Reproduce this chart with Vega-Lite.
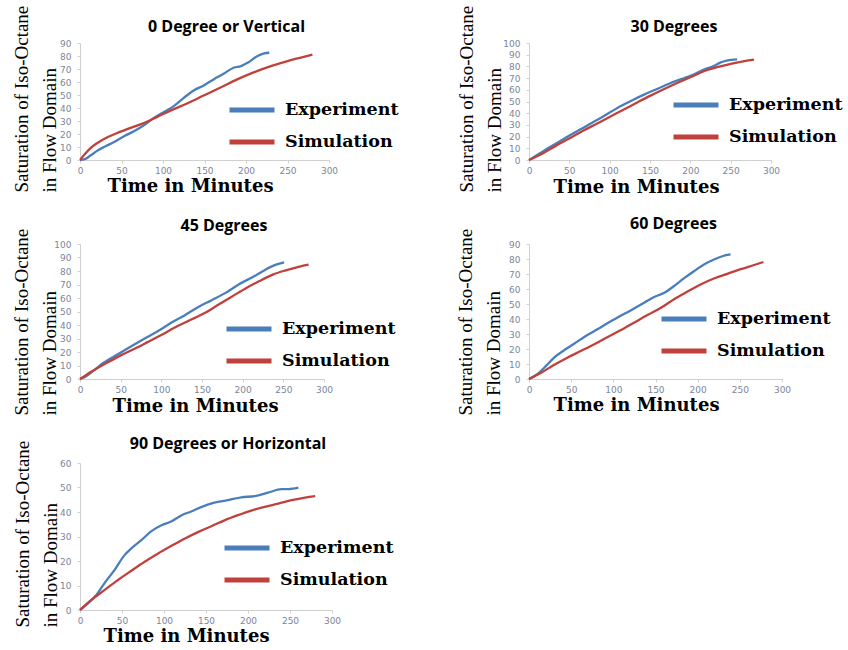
{
  "$schema": "https://vega.github.io/schema/vega-lite/v6.json",
  "padding": {"left": 11, "top": 5, "right": 5, "bottom": 5},
  "background": "white",
  "datasets": {
    "d1": [
      {"series": "Experiment", "t": 0, "s": 0}, {"series": "Experiment", "t": 5, "s": 0.4}, {"series": "Experiment", "t": 13, "s": 3.6}, {"series": "Experiment", "t": 21, "s": 7.2}, {"series": "Experiment", "t": 29, "s": 10}, {"series": "Experiment", "t": 41, "s": 13.9}, {"series": "Experiment", "t": 53, "s": 18.3}, {"series": "Experiment", "t": 65, "s": 22.1}, {"series": "Experiment", "t": 77, "s": 26.7}, {"series": "Experiment", "t": 89, "s": 32.4}, {"series": "Experiment", "t": 101, "s": 37}, {"series": "Experiment", "t": 113, "s": 41.4}, {"series": "Experiment", "t": 125, "s": 47.8}, {"series": "Experiment", "t": 137, "s": 53.5}, {"series": "Experiment", "t": 149, "s": 57.3}, {"series": "Experiment", "t": 161, "s": 62}, {"series": "Experiment", "t": 173, "s": 66.3}, {"series": "Experiment", "t": 185, "s": 71}, {"series": "Experiment", "t": 194, "s": 72.2}, {"series": "Experiment", "t": 202, "s": 74.8}, {"series": "Experiment", "t": 214, "s": 80}, {"series": "Experiment", "t": 222, "s": 82}, {"series": "Experiment", "t": 228, "s": 82.5},
      {"series": "Simulation", "t": 0, "s": 0}, {"series": "Simulation", "t": 7, "s": 5.4}, {"series": "Simulation", "t": 13, "s": 9.3}, {"series": "Simulation", "t": 21, "s": 13.1}, {"series": "Simulation", "t": 33, "s": 17.5}, {"series": "Simulation", "t": 45, "s": 20.8}, {"series": "Simulation", "t": 61, "s": 24.7}, {"series": "Simulation", "t": 77, "s": 28.5}, {"series": "Simulation", "t": 93, "s": 33.2}, {"series": "Simulation", "t": 109, "s": 38}, {"series": "Simulation", "t": 129, "s": 43.5}, {"series": "Simulation", "t": 149, "s": 49.6}, {"series": "Simulation", "t": 170, "s": 56}, {"series": "Simulation", "t": 190, "s": 62.2}, {"series": "Simulation", "t": 210, "s": 67.6}, {"series": "Simulation", "t": 230, "s": 72.2}, {"series": "Simulation", "t": 250, "s": 76.1}, {"series": "Simulation", "t": 265, "s": 78.6}, {"series": "Simulation", "t": 280, "s": 81}
    ],
    "d2": [
      {"series": "Experiment", "t": 0, "s": 0}, {"series": "Experiment", "t": 14, "s": 6}, {"series": "Experiment", "t": 26, "s": 11.1}, {"series": "Experiment", "t": 43, "s": 17.9}, {"series": "Experiment", "t": 59, "s": 24.4}, {"series": "Experiment", "t": 76, "s": 31}, {"series": "Experiment", "t": 92, "s": 37.2}, {"series": "Experiment", "t": 109, "s": 44.3}, {"series": "Experiment", "t": 125, "s": 50}, {"series": "Experiment", "t": 142, "s": 55.7}, {"series": "Experiment", "t": 158, "s": 60.5}, {"series": "Experiment", "t": 175, "s": 65.6}, {"series": "Experiment", "t": 192, "s": 69.9}, {"series": "Experiment", "t": 200, "s": 71.9}, {"series": "Experiment", "t": 216, "s": 77}, {"series": "Experiment", "t": 229, "s": 80.4}, {"series": "Experiment", "t": 237, "s": 83.2}, {"series": "Experiment", "t": 245, "s": 85}, {"series": "Experiment", "t": 258, "s": 86},
      {"series": "Simulation", "t": 0, "s": 0}, {"series": "Simulation", "t": 18, "s": 6}, {"series": "Simulation", "t": 34, "s": 12.5}, {"series": "Simulation", "t": 51, "s": 18.8}, {"series": "Simulation", "t": 67, "s": 25}, {"series": "Simulation", "t": 84, "s": 31}, {"series": "Simulation", "t": 101, "s": 37.2}, {"series": "Simulation", "t": 117, "s": 42.9}, {"series": "Simulation", "t": 134, "s": 49.1}, {"series": "Simulation", "t": 150, "s": 54.8}, {"series": "Simulation", "t": 167, "s": 60.5}, {"series": "Simulation", "t": 183, "s": 65.6}, {"series": "Simulation", "t": 200, "s": 70.7}, {"series": "Simulation", "t": 216, "s": 75.6}, {"series": "Simulation", "t": 233, "s": 79.3}, {"series": "Simulation", "t": 250, "s": 82.1}, {"series": "Simulation", "t": 264, "s": 84.1}, {"series": "Simulation", "t": 279, "s": 85.8}
    ],
    "d3": [
      {"series": "Experiment", "t": 0, "s": 0}, {"series": "Experiment", "t": 6, "s": 1.5}, {"series": "Experiment", "t": 17, "s": 6.4}, {"series": "Experiment", "t": 29, "s": 12}, {"series": "Experiment", "t": 46, "s": 18.2}, {"series": "Experiment", "t": 62, "s": 23.9}, {"series": "Experiment", "t": 79, "s": 29.8}, {"series": "Experiment", "t": 96, "s": 35.5}, {"series": "Experiment", "t": 112, "s": 41.6}, {"series": "Experiment", "t": 129, "s": 47.3}, {"series": "Experiment", "t": 145, "s": 53.2}, {"series": "Experiment", "t": 162, "s": 58.4}, {"series": "Experiment", "t": 179, "s": 63.8}, {"series": "Experiment", "t": 195, "s": 70}, {"series": "Experiment", "t": 212, "s": 75.4}, {"series": "Experiment", "t": 228, "s": 81}, {"series": "Experiment", "t": 241, "s": 84.7}, {"series": "Experiment", "t": 251, "s": 86.4},
      {"series": "Simulation", "t": 0, "s": 0}, {"series": "Simulation", "t": 8.5, "s": 3.4}, {"series": "Simulation", "t": 21, "s": 7.9}, {"series": "Simulation", "t": 33, "s": 12}, {"series": "Simulation", "t": 50, "s": 17.5}, {"series": "Simulation", "t": 67, "s": 22.4}, {"series": "Simulation", "t": 83, "s": 27.3}, {"series": "Simulation", "t": 100, "s": 32.6}, {"series": "Simulation", "t": 116, "s": 38}, {"series": "Simulation", "t": 133, "s": 43}, {"series": "Simulation", "t": 154, "s": 49}, {"series": "Simulation", "t": 170, "s": 55}, {"series": "Simulation", "t": 187, "s": 61.1}, {"series": "Simulation", "t": 204, "s": 67.3}, {"series": "Simulation", "t": 220, "s": 72.4}, {"series": "Simulation", "t": 237, "s": 77.3}, {"series": "Simulation", "t": 253, "s": 80.5}, {"series": "Simulation", "t": 270, "s": 83.3}, {"series": "Simulation", "t": 281, "s": 84.7}
    ],
    "d4": [
      {"series": "Experiment", "t": 0, "s": 0}, {"series": "Experiment", "t": 11, "s": 3.8}, {"series": "Experiment", "t": 20.5, "s": 8.9}, {"series": "Experiment", "t": 30, "s": 14.4}, {"series": "Experiment", "t": 42, "s": 19.3}, {"series": "Experiment", "t": 54, "s": 23.7}, {"series": "Experiment", "t": 66, "s": 28.2}, {"series": "Experiment", "t": 78, "s": 32.1}, {"series": "Experiment", "t": 90, "s": 36.1}, {"series": "Experiment", "t": 105, "s": 41}, {"series": "Experiment", "t": 121, "s": 45.9}, {"series": "Experiment", "t": 137, "s": 51}, {"series": "Experiment", "t": 149, "s": 54.8}, {"series": "Experiment", "t": 161, "s": 57.6}, {"series": "Experiment", "t": 172, "s": 62}, {"series": "Experiment", "t": 184, "s": 67.2}, {"series": "Experiment", "t": 196, "s": 72}, {"series": "Experiment", "t": 208, "s": 76.5}, {"series": "Experiment", "t": 220, "s": 79.8}, {"series": "Experiment", "t": 230, "s": 82}, {"series": "Experiment", "t": 239, "s": 83.1},
      {"series": "Simulation", "t": 0, "s": 0}, {"series": "Simulation", "t": 15, "s": 4.4}, {"series": "Simulation", "t": 30, "s": 9.5}, {"series": "Simulation", "t": 46, "s": 14.4}, {"series": "Simulation", "t": 62, "s": 18.8}, {"series": "Simulation", "t": 78, "s": 23.3}, {"series": "Simulation", "t": 94, "s": 28.2}, {"series": "Simulation", "t": 109, "s": 32.6}, {"series": "Simulation", "t": 125, "s": 37.7}, {"series": "Simulation", "t": 141, "s": 42.8}, {"series": "Simulation", "t": 157, "s": 47.7}, {"series": "Simulation", "t": 172, "s": 53.2}, {"series": "Simulation", "t": 188, "s": 58.3}, {"series": "Simulation", "t": 204, "s": 63.2}, {"series": "Simulation", "t": 220, "s": 67.2}, {"series": "Simulation", "t": 236, "s": 70.3}, {"series": "Simulation", "t": 251, "s": 73.2}, {"series": "Simulation", "t": 267, "s": 76}, {"series": "Simulation", "t": 278, "s": 78}
    ],
    "d5": [
      {"series": "Experiment", "t": 0, "s": 0}, {"series": "Experiment", "t": 9.5, "s": 2.7}, {"series": "Experiment", "t": 19.5, "s": 6.1}, {"series": "Experiment", "t": 29, "s": 10.9}, {"series": "Experiment", "t": 41, "s": 16.3}, {"series": "Experiment", "t": 53, "s": 22.4}, {"series": "Experiment", "t": 61, "s": 25.1}, {"series": "Experiment", "t": 73, "s": 28.5}, {"series": "Experiment", "t": 85, "s": 32.2}, {"series": "Experiment", "t": 97, "s": 34.6}, {"series": "Experiment", "t": 109, "s": 36.2}, {"series": "Experiment", "t": 121, "s": 38.7}, {"series": "Experiment", "t": 133, "s": 40.3}, {"series": "Experiment", "t": 145, "s": 42.1}, {"series": "Experiment", "t": 160, "s": 43.8}, {"series": "Experiment", "t": 176, "s": 44.8}, {"series": "Experiment", "t": 192, "s": 46}, {"series": "Experiment", "t": 208, "s": 46.5}, {"series": "Experiment", "t": 224, "s": 47.9}, {"series": "Experiment", "t": 240, "s": 49.3}, {"series": "Experiment", "t": 248, "s": 49.3}, {"series": "Experiment", "t": 260, "s": 49.9},
      {"series": "Simulation", "t": 0, "s": 0}, {"series": "Simulation", "t": 13.5, "s": 4.1}, {"series": "Simulation", "t": 29, "s": 8.1}, {"series": "Simulation", "t": 45, "s": 12.2}, {"series": "Simulation", "t": 61, "s": 16}, {"series": "Simulation", "t": 77, "s": 19.7}, {"series": "Simulation", "t": 93, "s": 23.1}, {"series": "Simulation", "t": 109, "s": 26.2}, {"series": "Simulation", "t": 125, "s": 29.2}, {"series": "Simulation", "t": 141, "s": 31.9}, {"series": "Simulation", "t": 157, "s": 34.3}, {"series": "Simulation", "t": 172, "s": 36.6}, {"series": "Simulation", "t": 188, "s": 38.7}, {"series": "Simulation", "t": 204, "s": 40.6}, {"series": "Simulation", "t": 220, "s": 42.1}, {"series": "Simulation", "t": 236, "s": 43.4}, {"series": "Simulation", "t": 252, "s": 44.8}, {"series": "Simulation", "t": 268, "s": 45.9}, {"series": "Simulation", "t": 280, "s": 46.5}
    ]
  },
  "columns": 2,
  "bounds": "flush",
  "align": "none",
  "spacing": {"row": 84, "column": 197},
  "resolve": {"scale": {"color": "independent", "stroke": "independent"}, "legend": {"color": "independent", "stroke": "independent"}},
  "concat": [
    {
      "width": 249, "height": 117,
      "title": {"text": "0 Degree or Vertical", "dx": 22, "offset": -30},
      "data": {"name": "d1"},
      "encoding": {
        "x": {"field": "t", "type": "quantitative", "scale": {"domain": [0, 300], "nice": false}, "axis": {"values": [0, 50, 100, 150, 200, 250, 300], "title": "Time in Minutes", "titleX": 110, "titleY": 26}},
        "y": {"field": "s", "type": "quantitative", "scale": {"domain": [0, 90], "nice": false}, "axis": {"values": [0, 10, 20, 30, 40, 50, 60, 70, 80, 90], "title": ["Saturation of Iso-Octane", "in Flow Domain"], "titleX": -68, "titleY": 149}}
      },
      "layer": [
        {"transform": [{"filter": "datum.series == 'Experiment'"}], "mark": {"type": "line", "strokeWidth": 2.3, "interpolate": "monotone"},
         "encoding": {"color": {"field": "series", "type": "nominal", "scale": {"domain": ["Experiment"], "range": ["#4a7ebb"]}, "legend": {"title": null, "orient": "none", "legendX": 147, "legendY": 42}}}},
        {"transform": [{"filter": "datum.series == 'Simulation'"}], "mark": {"type": "line", "strokeWidth": 2.3, "interpolate": "monotone"},
         "encoding": {"stroke": {"field": "series", "type": "nominal", "scale": {"domain": ["Simulation"], "range": ["#c0413b"]}, "legend": {"title": null, "orient": "none", "legendX": 147, "legendY": 74}}}}
      ]
    },
    {
      "width": 242, "height": 117,
      "title": {"text": "30 Degrees", "dx": 24, "offset": -30},
      "data": {"name": "d2"},
      "encoding": {
        "x": {"field": "t", "type": "quantitative", "scale": {"domain": [0, 300], "nice": false}, "axis": {"values": [0, 50, 100, 150, 200, 250, 300], "title": "Time in Minutes", "titleX": 107, "titleY": 27}},
        "y": {"field": "s", "type": "quantitative", "scale": {"domain": [0, 100], "nice": false}, "axis": {"values": [0, 10, 20, 30, 40, 50, 60, 70, 80, 90, 100], "title": ["Saturation of Iso-Octane", "in Flow Domain"], "titleX": -72, "titleY": 149}}
      },
      "layer": [
        {"transform": [{"filter": "datum.series == 'Experiment'"}], "mark": {"type": "line", "strokeWidth": 2.3, "interpolate": "monotone"},
         "encoding": {"color": {"field": "series", "type": "nominal", "scale": {"domain": ["Experiment"], "range": ["#4a7ebb"]}, "legend": {"title": null, "orient": "none", "legendX": 142, "legendY": 37}}}},
        {"transform": [{"filter": "datum.series == 'Simulation'"}], "mark": {"type": "line", "strokeWidth": 2.3, "interpolate": "monotone"},
         "encoding": {"stroke": {"field": "series", "type": "nominal", "scale": {"domain": ["Simulation"], "range": ["#c0413b"]}, "legend": {"title": null, "orient": "none", "legendX": 142, "legendY": 69}}}}
      ]
    },
    {
      "width": 244, "height": 135,
      "title": {"text": "45 Degrees", "dx": 22, "offset": -6},
      "data": {"name": "d3"},
      "encoding": {
        "x": {"field": "t", "type": "quantitative", "scale": {"domain": [0, 300], "nice": false}, "axis": {"values": [0, 50, 100, 150, 200, 250, 300], "title": "Time in Minutes", "titleX": 115, "titleY": 27}},
        "y": {"field": "s", "type": "quantitative", "scale": {"domain": [0, 100], "nice": false}, "axis": {"values": [0, 10, 20, 30, 40, 50, 60, 70, 80, 90, 100], "title": ["Saturation of Iso-Octane", "in Flow Domain"], "titleX": -68, "titleY": 171}}
      },
      "layer": [
        {"transform": [{"filter": "datum.series == 'Experiment'"}], "mark": {"type": "line", "strokeWidth": 2.3, "interpolate": "monotone"},
         "encoding": {"color": {"field": "series", "type": "nominal", "scale": {"domain": ["Experiment"], "range": ["#4a7ebb"]}, "legend": {"title": null, "orient": "none", "legendX": 144, "legendY": 60}}}},
        {"transform": [{"filter": "datum.series == 'Simulation'"}], "mark": {"type": "line", "strokeWidth": 2.3, "interpolate": "monotone"},
         "encoding": {"stroke": {"field": "series", "type": "nominal", "scale": {"domain": ["Simulation"], "range": ["#c0413b"]}, "legend": {"title": null, "orient": "none", "legendX": 144, "legendY": 92}}}}
      ]
    },
    {
      "width": 253, "height": 135,
      "title": {"text": "60 Degrees", "dx": 18, "offset": -4},
      "data": {"name": "d4"},
      "encoding": {
        "x": {"field": "t", "type": "quantitative", "scale": {"domain": [0, 300], "nice": false}, "axis": {"values": [0, 50, 100, 150, 200, 250, 300], "title": "Time in Minutes", "titleX": 107, "titleY": 26}},
        "y": {"field": "s", "type": "quantitative", "scale": {"domain": [0, 90], "nice": false}, "axis": {"values": [0, 10, 20, 30, 40, 50, 60, 70, 80, 90], "title": ["Saturation of Iso-Octane", "in Flow Domain"], "titleX": -73, "titleY": 171}}
      },
      "layer": [
        {"transform": [{"filter": "datum.series == 'Experiment'"}], "mark": {"type": "line", "strokeWidth": 2.3, "interpolate": "monotone"},
         "encoding": {"color": {"field": "series", "type": "nominal", "scale": {"domain": ["Experiment"], "range": ["#4a7ebb"]}, "legend": {"title": null, "orient": "none", "legendX": 130, "legendY": 50}}}},
        {"transform": [{"filter": "datum.series == 'Simulation'"}], "mark": {"type": "line", "strokeWidth": 2.3, "interpolate": "monotone"},
         "encoding": {"stroke": {"field": "series", "type": "nominal", "scale": {"domain": ["Simulation"], "range": ["#c0413b"]}, "legend": {"title": null, "orient": "none", "legendX": 130, "legendY": 82}}}}
      ]
    },
    {
      "width": 252, "height": 147,
      "title": {"text": "90 Degrees or Horizontal", "dx": 22, "offset": -12},
      "data": {"name": "d5"},
      "encoding": {
        "x": {"field": "t", "type": "quantitative", "scale": {"domain": [0, 300], "nice": false}, "axis": {"values": [0, 50, 100, 150, 200, 250, 300], "title": "Time in Minutes", "titleX": 106, "titleY": 26}},
        "y": {"field": "s", "type": "quantitative", "scale": {"domain": [0, 60], "nice": false}, "axis": {"values": [0, 10, 20, 30, 40, 50, 60], "title": ["Saturation of Iso-Octane", "in Flow Domain"], "titleX": -67, "titleY": 164}}
      },
      "layer": [
        {"transform": [{"filter": "datum.series == 'Experiment'"}], "mark": {"type": "line", "strokeWidth": 2.3, "interpolate": "monotone"},
         "encoding": {"color": {"field": "series", "type": "nominal", "scale": {"domain": ["Experiment"], "range": ["#4a7ebb"]}, "legend": {"title": null, "orient": "none", "legendX": 142, "legendY": 60}}}},
        {"transform": [{"filter": "datum.series == 'Simulation'"}], "mark": {"type": "line", "strokeWidth": 2.3, "interpolate": "monotone"},
         "encoding": {"stroke": {"field": "series", "type": "nominal", "scale": {"domain": ["Simulation"], "range": ["#c0413b"]}, "legend": {"title": null, "orient": "none", "legendX": 142, "legendY": 92}}}}
      ]
    }
  ],
  "config": {
    "view": {"stroke": null},
    "axis": {"grid": false, "domainColor": "#d0d0d0", "tickColor": "#d0d0d0", "labelFont": "DejaVu Sans", "labelFontSize": 9, "labelColor": "#7d8599", "labelFlush": false, "labelOverlap": false, "titleFont": "Liberation Serif", "titleColor": "#000000"},
    "axisX": {"tickSize": 3, "labelPadding": 3, "titleFont": "DejaVu Serif", "titleFontSize": 18, "titleFontWeight": "bold", "titleAlign": "center", "titleBaseline": "middle"},
    "axisY": {"tickSize": 3, "labelPadding": 6, "titleFontSize": 19, "titleFontWeight": "normal", "titleAngle": 270, "titleAlign": "left", "titleBaseline": "top", "titleLineHeight": 28},
    "legend": {"symbolType": "stroke", "symbolSize": 2025, "symbolStrokeWidth": 5, "labelFont": "DejaVu Serif", "labelFontSize": 17.5, "labelFontWeight": "bold", "labelColor": "#000000", "labelOffset": 8, "padding": 0, "direction": "vertical", "labelLimit": 300},
    "title": {"font": "Open Sans", "fontSize": 16, "fontWeight": "bold", "color": "#000000", "frame": "group", "anchor": "middle"}
  }
}
